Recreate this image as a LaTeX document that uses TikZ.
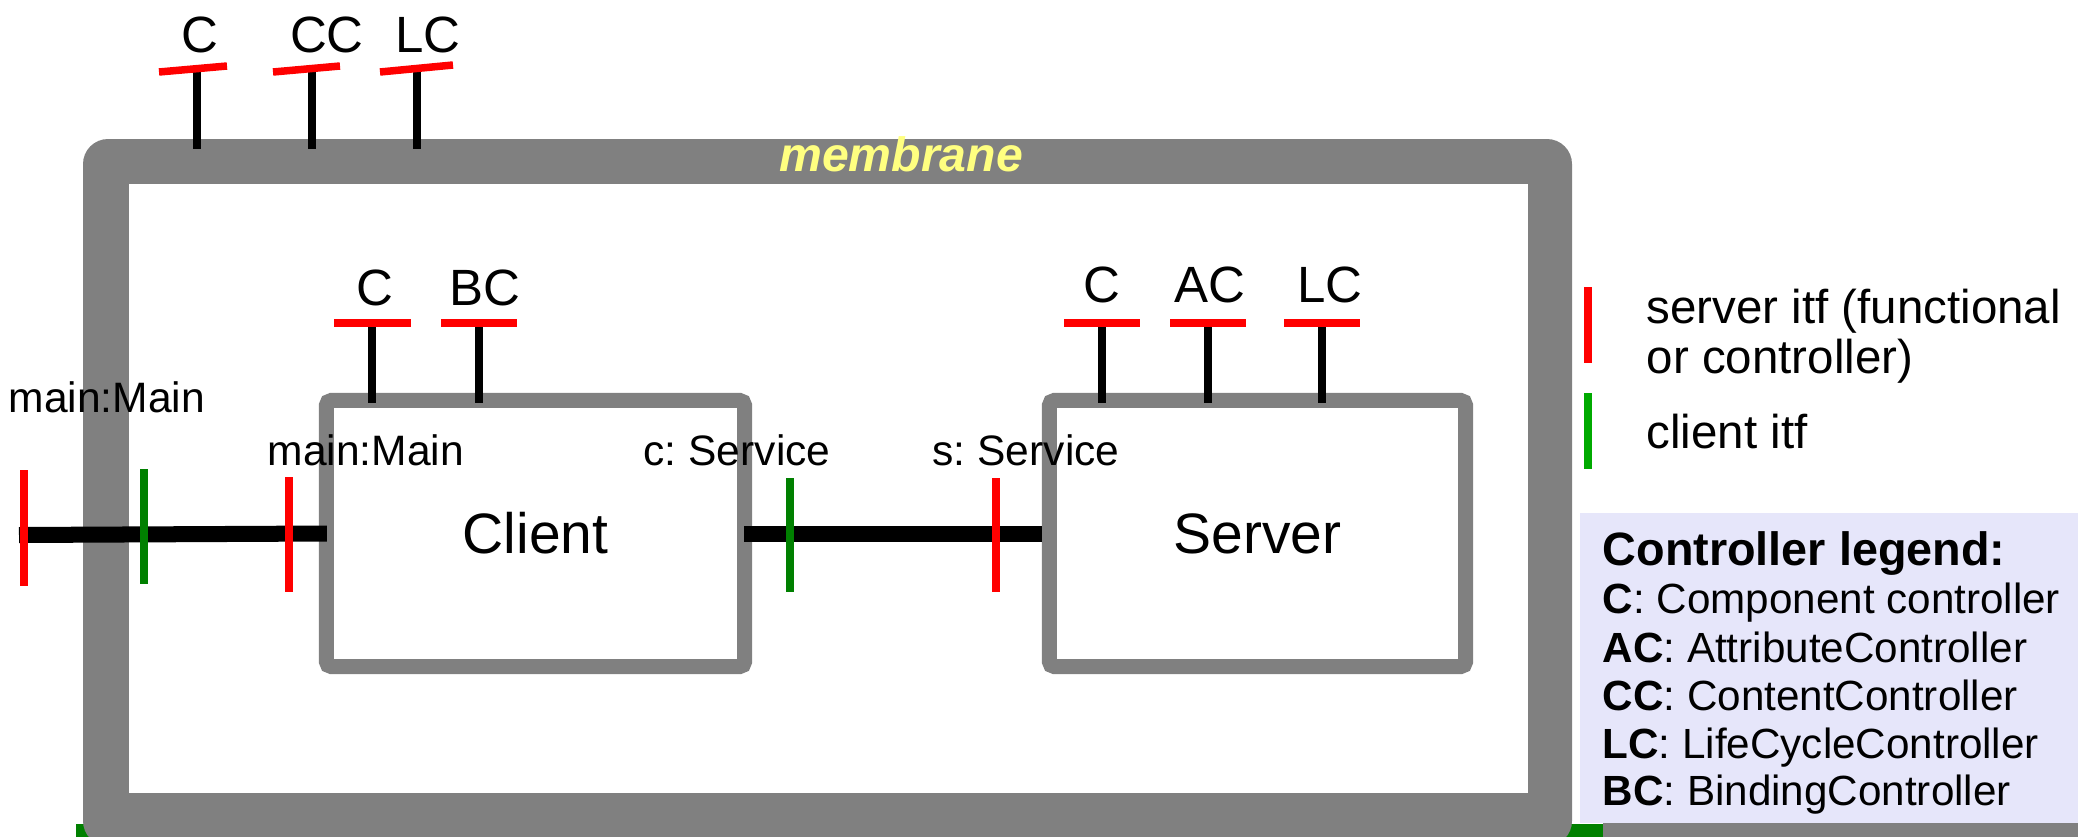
\documentclass[tikz,border=0pt]{standalone}
\usepackage{fontspec}
\setmainfont{Liberation Sans}
\definecolor{memgray}{RGB}{128,128,128}
\definecolor{itfred}{RGB}{255,0,0}
\definecolor{itfgreen}{RGB}{0,128,0}
\definecolor{lgreen}{RGB}{0,170,0}
\definecolor{lav}{RGB}{230,230,250}
\definecolor{memyellow}{RGB}{255,255,128}
\begin{document}
\frenchspacing
\begin{tikzpicture}[x=0.01cm,y=-0.01cm,
  comp/.style={draw=memgray, line width=0.15cm, rounded corners=0.05cm, fill=white,
    minimum height=2.66cm, inner sep=0, font=\fontsize{16.2}{19}\selectfont},
  stub/.style={line width=0.08cm, black},
  srvbar/.style={line width=0.075cm, itfred},
  cltbar/.style={line width=0.075cm, itfgreen},
  binding/.style={line width=0.16cm, black},
  ctrllbl/.style={anchor=base, inner sep=0, font=\fontsize{14.5}{17}\selectfont},
  itflbl/.style={anchor=base west, inner sep=0, font=\fontsize{12.1}{14}\selectfont},
  leglbl/.style={anchor=base west, inner sep=0, font=\fontsize{13.5}{15}\selectfont},
  legitem/.style={anchor=base west, inner sep=0, font=\fontsize{12}{14}\selectfont},
]
\useasboundingbox (0,0) rectangle (2078,836);
\clip (0,0) rectangle (2078,836);

% bottom strip (outer composite, partly visible)
\fill[itfgreen] (76,824) rectangle (1603,850);
\fill[memgray] (1603,823) rectangle (2078,850);

% membrane
\fill[memgray, rounded corners=0.25cm] (83,139) rectangle (1572,846);
\fill[white] (129,184) rectangle (1528,793);
\node[anchor=base, inner sep=0, text=memyellow, font=\bfseries\itshape\fontsize{13.7}{16}\selectfont] (memlbl) at (901,171) {membrane};

% legend box
\fill[lav] (1580,513) rectangle (2090,823);

% membrane controller stubs
\coordinate (mCt) at (197,72);  \coordinate (mCb) at (197,149);
\coordinate (mCCt) at (312,72); \coordinate (mCCb) at (312,149);
\coordinate (mLCt) at (417,72); \coordinate (mLCb) at (417,149);
\draw[stub] (mCt) -- (mCb);
\draw[stub] (mCCt) -- (mCCb);
\draw[stub] (mLCt) -- (mLCb);
\draw[srvbar] (159,72) -- (227,66);
\draw[srvbar] (273,72) -- (340,66);
\draw[srvbar] (380,72) -- (453,65);
\node[ctrllbl] (mClbl) at (200,52) {C};
\node[ctrllbl] (mCClbl) at (327,52) {CC};
\node[ctrllbl] (mLClbl) at (428,52) {LC};

% components
\node[comp, minimum width=4.18cm] (client) at (535.5,533.5) {Client};
\node[comp, minimum width=4.16cm] (server) at (1257.5,533.5) {Server};

% client controller stubs
\coordinate (cCt) at (372,325);  \coordinate (cCb) at (372,403);
\coordinate (cBCt) at (479,325); \coordinate (cBCb) at (479,403);
\draw[stub] (cCt) -- (cCb);
\draw[stub] (cBCt) -- (cBCb);
\draw[srvbar] (334,323) -- (411,323);
\draw[srvbar] (441,323) -- (517,323);
\node[ctrllbl] (cClbl) at (375,305) {C};
\node[ctrllbl] (cBClbl) at (485,305) {BC};

% server controller stubs
\coordinate (sCt) at (1102,325);  \coordinate (sCb) at (1102,403);
\coordinate (sACt) at (1208,325); \coordinate (sACb) at (1208,403);
\coordinate (sLCt) at (1322,325); \coordinate (sLCb) at (1322,403);
\draw[stub] (sCt) -- (sCb);
\draw[stub] (sACt) -- (sACb);
\draw[stub] (sLCt) -- (sLCb);
\draw[srvbar] (1064,323) -- (1140,323);
\draw[srvbar] (1170,323) -- (1246,323);
\draw[srvbar] (1284,323) -- (1360,323);
\node[ctrllbl] (sClbl) at (1102,302) {C};
\node[ctrllbl] (sAClbl) at (1210,302) {AC};
\node[ctrllbl] (sLClbl) at (1330,302) {LC};

% bindings
\coordinate (extL) at (19,535);
\draw[binding] (extL) -- ([xshift=0.08cm]client.west);
\draw[binding] ([xshift=-0.08cm]client.east) -- (server.west);

% interfaces
\draw[srvbar] (24,470) -- (24,586);
\draw[cltbar] (144,469) -- (144,584);
\draw[srvbar] (289,477) -- (289,592);
\draw[cltbar] (790,478) -- (790,592);
\draw[srvbar] (996,478) -- (996,592);

% interface labels
\node[itflbl] (extlbl) at (8,412) {main:Main};
\node[itflbl] (mainlbl) at (267,465) {main:Main};
\node[itflbl] (clbl) at (643,465) {c: Service};
\node[itflbl] (slbl) at (932,465) {s: Service};

% legend: interfaces
\draw[srvbar] (1588,287) -- (1588,363);
\draw[line width=0.075cm, lgreen] (1588,393) -- (1588,469);
\node[leglbl] (lsrv1) at (1646,323) {server itf (functional};
\node[leglbl] (lsrv2) at (1646,373) {or controller)};
\node[leglbl] (lclt) at (1646,448) {client itf};

% legend: controllers
\node[anchor=base west, inner sep=0, font=\bfseries\fontsize{13.3}{15}\selectfont] (lhead) at (1602,565) {Controller legend:};
\node[legitem] (l1) at (1602,613) {\textbf{C}: Component controller};
\node[legitem] (l2) at (1602,662) {\textbf{AC}: AttributeController};
\node[legitem] (l3) at (1602,710) {\textbf{CC}: ContentController};
\node[legitem] (l4) at (1602,758) {\textbf{LC}: LifeCycleController};
\node[legitem] (l5) at (1602,805) {\textbf{BC}: BindingController};
\end{tikzpicture}
\end{document}
